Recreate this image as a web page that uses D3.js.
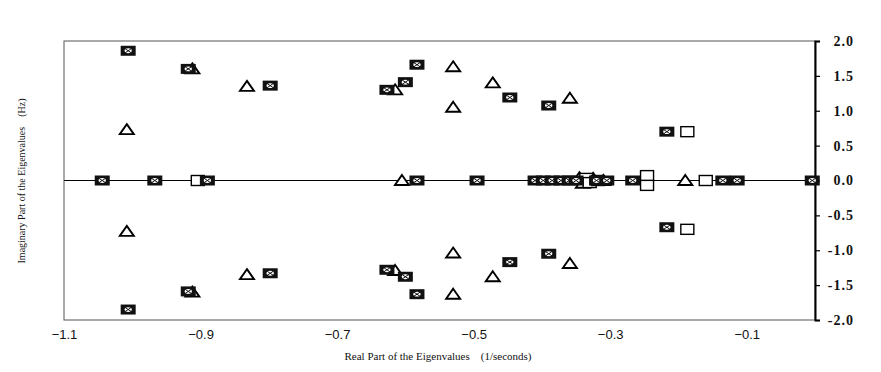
<!DOCTYPE html>
<html lang="en">
  <head>
  <meta charset="utf-8">
  <title>Eigenvalues</title>
    <style>
      body { margin: 0; background: #fff; }
      .xlab text { font-family: 'Liberation Sans', Arial, sans-serif; font-size: 13px; fill: #111; }
      .ylab text { font-family: 'Liberation Serif', 'Times New Roman', serif; font-size: 14px; font-weight: bold; fill: #111; letter-spacing: 1px; }
      .title { font-family: 'Liberation Serif', 'Times New Roman', serif; font-size: 11px; fill: #111; }
    </style>
  </head>
  <body>
<div id="chart"></div>
    <script src="https://cdn.jsdelivr.net/npm/d3@7"></script>
    <script>
    // [real part, imaginary part]
    var triangles = [
      [-1.008, 0.73], [-0.912, 1.60], [-0.832, 1.35], [-0.615, 1.30], [-0.530, 1.63],
      [-0.530, 1.05], [-0.472, 1.40], [-0.359, 1.18],
      [-1.008, -0.73], [-0.912, -1.60], [-0.832, -1.35], [-0.615, -1.29], [-0.530, -1.04],
      [-0.530, -1.63], [-0.472, -1.38], [-0.359, -1.19],
      [-0.605, 0], [-0.345, 0.04], [-0.340, -0.04], [-0.325, 0.03], [-0.310, 0], [-0.190, 0]
    ];
    var openSquares = [
      [-0.904, 0], [-0.187, 0.70], [-0.187, -0.70], [-0.246, 0.07], [-0.246, -0.07],
      [-0.160, 0], [-0.335, 0.03], [-0.330, -0.03], [-0.318, 0]
    ];
    var crossedSquares = [
      [-1.006, 1.86], [-0.918, 1.60], [-0.798, 1.36], [-0.627, 1.30], [-0.600, 1.41],
      [-0.583, 1.66], [-0.447, 1.19], [-0.390, 1.075], [-0.217, 0.70],
      [-1.006, -1.85], [-0.918, -1.59], [-0.798, -1.33], [-0.627, -1.28], [-0.600, -1.38],
      [-0.583, -1.63], [-0.447, -1.17], [-0.390, -1.05], [-0.217, -0.67],
      [-1.044, 0], [-0.967, 0], [-0.890, 0], [-0.583, 0], [-0.495, 0], [-0.410, 0],
      [-0.398, 0], [-0.385, 0], [-0.372, 0], [-0.360, 0], [-0.350, 0], [-0.320, 0],
      [-0.305, 0], [-0.267, 0], [-0.135, 0], [-0.114, 0], [-0.004, 0]
    ];
    var xTicks = [-1.1, -0.9, -0.7, -0.5, -0.3, -0.1];
    var yTicks = [2.0, 1.5, 1.0, 0.5, 0.0, -0.5, -1.0, -1.5, -2.0];

    var width = 881, height = 372;
    var mLeft = 64, mRight = 815, mTop = 41, mBottom = 320;

    var svg = d3.select("#chart").append("svg")
        .attr("width", width)
        .attr("height", height);

    var x = d3.scaleLinear().domain([-1.1, 0]).range([mLeft, mRight]);
    var y = d3.scaleLinear().domain([-2, 2]).range([mBottom, mTop]);

    // frame
    svg.append("rect")
        .attr("x", mLeft).attr("y", mTop)
        .attr("width", mRight - mLeft).attr("height", mBottom - mTop)
        .attr("fill", "none").attr("stroke", "#555").attr("stroke-width", 1);

    // zero line
    svg.append("line")
        .attr("x1", mLeft).attr("x2", mRight)
        .attr("y1", y(0)).attr("y2", y(0))
        .attr("stroke", "#000").attr("stroke-width", 1);

    // bottom labels, no tick marks
    var xAxis = svg.append("g")
        .attr("class", "xlab")
        .attr("transform", "translate(0," + mBottom + ")")
        .call(d3.axisBottom(x).tickValues(xTicks).tickSize(0).tickPadding(10).tickFormat(d3.format(".1f")));
    xAxis.select(".domain").remove();

    // right axis
    var yAxis = svg.append("g")
        .attr("class", "ylab")
        .attr("transform", "translate(" + mRight + ",0)")
        .call(d3.axisRight(y).tickValues(yTicks).tickSize(5).tickPadding(4)
          .tickFormat(function(d) { return d3.format(".1f")(d).replace("\u2212", "-"); }));
    yAxis.select(".domain").attr("stroke", "#000").attr("stroke-width", 2);
    yAxis.selectAll(".tick line").attr("stroke", "#000").attr("stroke-width", 1.2);
    yAxis.selectAll(".tick text").attr("text-anchor", "end").attr("x", 39);

    // markers
    svg.append("g").selectAll("path")
        .data(triangles)
        .enter().append("path")
          .attr("transform", function(d) { return "translate(" + x(d[0]) + "," + y(d[1]) + ")"; })
          .attr("d", "M0,-5.5L7,4.5L-7,4.5Z")
          .attr("fill", "#fff")
          .attr("stroke", "#000")
          .attr("stroke-width", 1.9);

    svg.append("g").selectAll("rect")
        .data(openSquares)
        .enter().append("rect")
          .attr("x", function(d) { return x(d[0]) - 6.5; })
          .attr("y", function(d) { return y(d[1]) - 5; })
          .attr("width", 13).attr("height", 10)
          .attr("fill", "#fff")
          .attr("stroke", "#000")
          .attr("stroke-width", 1.4);

    var cs = svg.append("g").selectAll("g")
        .data(crossedSquares)
        .enter().append("g")
          .attr("transform", function(d) { return "translate(" + x(d[0]) + "," + y(d[1]) + ")"; });
    cs.append("rect")
        .attr("x", -7.5).attr("y", -5)
        .attr("width", 15).attr("height", 10)
        .attr("fill", "#111");
    cs.append("ellipse")
        .attr("rx", 3.6).attr("ry", 2.4)
        .attr("fill", "#fff");
    cs.append("path")
        .attr("d", "M-3,-2L3,2M-3,2L3,-2")
        .attr("stroke", "#111")
        .attr("stroke-width", 1);

    // axis titles
    svg.append("text")
        .attr("class", "title")
        .attr("x", 438).attr("y", 360)
        .attr("text-anchor", "middle")
        .attr("xml:space", "preserve")
        .text("Real Part of the Eigenvalues    (1/seconds)");

    svg.append("text")
        .attr("class", "title")
        .attr("transform", "translate(25,181) rotate(-90)")
        .attr("text-anchor", "middle")
        .attr("xml:space", "preserve")
        .style("font-size", "10px")
        .text("Imaginary Part of the Eigenvalues    (Hz)");
    </script>
  </body>
</html>
